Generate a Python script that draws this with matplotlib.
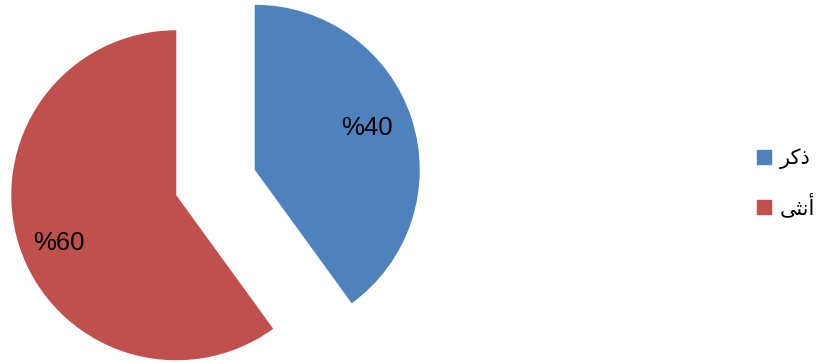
import matplotlib
matplotlib.use("Agg")
import matplotlib.pyplot as plt
from matplotlib.lines import Line2D

labels = ["ذكر", "أنثى"]
shares = [40, 60]
colors = ["#4F81BD", "#C0504D"]

plt.rcParams["font.family"] = ["Liberation Sans", "DejaVu Sans"]

# presentation forms: isolated, final, initial, medial
FORMS = {
    "ذ": ("\uFEAB", "\uFEAC", None, None),
    "ر": ("\uFEAD", "\uFEAE", None, None),
    "ك": ("\uFED9", "\uFEDA", "\uFEDB", "\uFEDC"),
    "أ": ("\uFE83", "\uFE84", None, None),
    "ن": ("\uFEE5", "\uFEE6", "\uFEE7", "\uFEE8"),
    "ث": ("\uFE99", "\uFE9A", "\uFE9B", "\uFE9C"),
    "ى": ("\uFEEF", "\uFEF0", None, None),
}


def shape(word):
    # matplotlib has no Arabic shaping, so pick the joined glyphs by hand
    out = []
    for i, ch in enumerate(word):
        iso, fin, ini, med = FORMS[ch]
        prev_joins = i > 0 and FORMS[word[i - 1]][2] is not None
        next_exists = i < len(word) - 1
        if prev_joins and next_exists and med:
            out.append(med)
        elif prev_joins:
            out.append(fin)
        elif next_exists and ini:
            out.append(ini)
        else:
            out.append(iso)
    return "".join(reversed(out))


fig = plt.figure(figsize=(8.16, 3.63), dpi=100)
ax = fig.add_axes([0, 0, 1, 1])

radius = 165
wedges, texts, autotexts = ax.pie(
    shares, colors=colors, startangle=90, counterclock=False,
    explode=[0.25 * radius, 0.25 * radius], center=(215.5, 180.5),
    radius=radius,
    autopct=lambda p: "%{:.0f}".format(p), pctdistance=0.72,
    textprops={"fontsize": 18.5, "color": "black"},
    wedgeprops={"linewidth": 0},
)
# nudge the percentage labels into place
autotexts[0].set_position((367, 235))
autotexts[1].set_position((59, 120))

# one data unit per pixel
ax.set_xlim(0, 816)
ax.set_ylim(0, 363)
ax.set_aspect("equal")
ax.axis("off")

handles = [Line2D([], [], marker="s", linestyle="none", markersize=10,
                  markerfacecolor=c, markeredgecolor=c) for c in colors]
fig.legend(handles, [shape(l) for l in labels], loc="center left",
           bbox_to_anchor=(0.925, 0.495), frameon=False, fontsize=15,
           handletextpad=0.3, labelspacing=1.15, handlelength=0.9,
           borderpad=0, borderaxespad=0)

fig.savefig("out.png", dpi=100)
